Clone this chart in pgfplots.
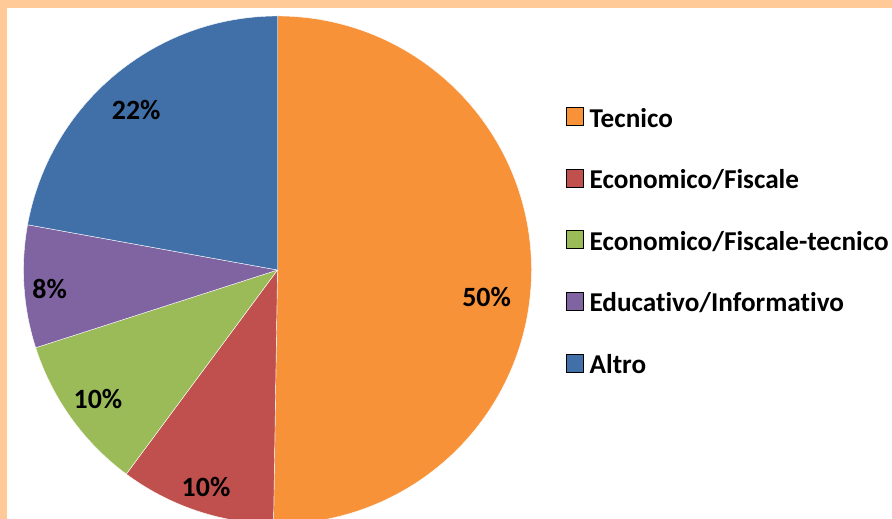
\documentclass[border=0pt]{standalone}
\usepackage{pgfplots}
\usepackage{pgfplotstable}
\pgfplotsset{compat=1.18}
\usepackage{fontspec}
\setmainfont{Carlito}[Ligatures=NoCommon]
\definecolor{peach}{HTML}{FFCA97}
\definecolor{c0}{HTML}{F79239}
\definecolor{c1}{HTML}{C0504D}
\definecolor{c2}{HTML}{9BBB59}
\definecolor{c3}{HTML}{8064A2}
\definecolor{c4}{HTML}{4170A9}
\pgfplotstableread{
value lab lr ao
50.25 50 0.83 -6.8
9.9   10 0.90 0.5
9.9   10 0.87 0
7.8   8  0.90 1
22.15 22 0.84 1.6
}\piedata
\begin{document}
\begin{tikzpicture}
\begin{axis}[
  x=1bp, y=1bp, xmin=0, xmax=892, ymin=0, ymax=519,
  scale only axis, hide axis, clip=true,
  legend style={at={(axis cs:566,412)}, anchor=north west, draw=none, fill=none,
    font=\bfseries\fontsize{27.3}{32}\selectfont, row sep=39bp,
    inner sep=0pt, nodes={inner sep=1pt}},
  legend cell align=left,
  legend image code/.code={\fill[#1] (0bp,-7bp) rectangle (17bp,11bp); \path (22bp,0bp);},
]
\fill[peach] (axis cs:0,0) rectangle (axis cs:892,519);
\fill[white] (axis cs:7,0) rectangle (axis cs:892,511);
\pgfplotstablegetrowsof{\piedata}
\pgfmathtruncatemacro\N{\pgfplotsretval-1}
\def\cum{0}
\pgfplotsforeachungrouped \i in {0,...,\N}{%
  \pgfplotstablegetelem{\i}{value}\of\piedata \let\v\pgfplotsretval
  \pgfplotstablegetelem{\i}{lab}\of\piedata \let\l\pgfplotsretval
  \pgfplotstablegetelem{\i}{lr}\of\piedata \let\lr\pgfplotsretval
  \pgfplotstablegetelem{\i}{ao}\of\piedata \let\ao\pgfplotsretval
  \pgfmathsetmacro\a{90-\cum*3.6}%
  \pgfmathsetmacro\b{90-(\cum+\v)*3.6}%
  \pgfmathsetmacro\m{(\a+\b)/2+\ao}%
  \pgfmathsetmacro\cum{\cum+\v}%
  \pgfmathsetmacro\lx{277.5+\lr*254*cos(\m)}%
  \pgfmathsetmacro\ly{249+\lr*254*sin(\m)}%
  \edef\temp{\noexpand\fill[fill=c\i, draw=white, line width=0.4bp] (axis cs:277.5,249) -- ++(\a:254bp) arc[start angle=\a, end angle=\b, radius=254bp] -- cycle;
  \noexpand\node[font=\noexpand\bfseries\noexpand\fontsize{28}{32}\noexpand\selectfont] at (axis cs:\lx,\ly) {\l\noexpand\%};}%
  \temp
}
\addlegendimage{fill=c0}\addlegendentry{Tecnico}
\addlegendimage{fill=c1}\addlegendentry{Economico/Fiscale}
\addlegendimage{fill=c2}\addlegendentry{Economico/Fiscale-tecnico}
\addlegendimage{fill=c3}\addlegendentry{Educativo/Informativo}
\addlegendimage{fill=c4}\addlegendentry{Altro}
\end{axis}
\end{tikzpicture}
\end{document}
